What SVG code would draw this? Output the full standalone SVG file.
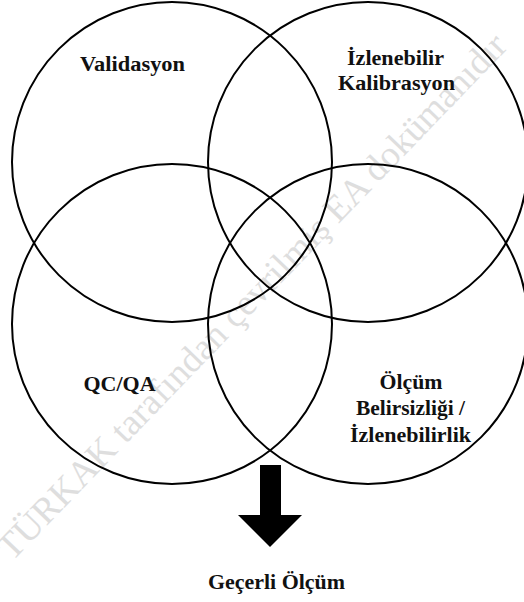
<svg xmlns="http://www.w3.org/2000/svg" width="524" height="602" viewBox="0 0 524 602">
  <style>
    .ring { fill: none; stroke: #000; stroke-width: 2; }
    .label { font-family: "Liberation Serif", "Times New Roman", serif; font-weight: bold; font-size: 20px; fill: #111; text-anchor: middle; }
    .mark { font-family: "Liberation Serif", "Times New Roman", serif; font-size: 37px; fill: #dedede; }
  </style>
  <rect width="524" height="602" fill="#fff"/>

  <!-- background watermark -->
  <text class="mark" transform="translate(12,562) rotate(-46)">TÜRKAK tarafından çevrilmiş EA dokümanıdır</text>

  <!-- four overlapping circles -->
  <g id="validasyon">
    <circle class="ring" cx="172" cy="162" r="160"/>
    <text class="label" x="132.5" y="71" textLength="105" lengthAdjust="spacingAndGlyphs">Validasyon</text>
  </g>
  <g id="izlenebilir-kalibrasyon">
    <circle class="ring" cx="368" cy="162" r="160"/>
    <text class="label" x="395.5" y="65" textLength="97" lengthAdjust="spacingAndGlyphs">İzlenebilir</text>
    <text class="label" x="396.5" y="90" textLength="117" lengthAdjust="spacingAndGlyphs">Kalibrasyon</text>
  </g>
  <g id="qc-qa">
    <circle class="ring" cx="172" cy="324" r="160"/>
    <text class="label" x="119.5" y="391" textLength="72" lengthAdjust="spacingAndGlyphs">QC/QA</text>
  </g>
  <g id="olcum-belirsizligi">
    <circle class="ring" cx="368" cy="324" r="160"/>
    <text class="label" x="411" y="389" textLength="63" lengthAdjust="spacingAndGlyphs">Ölçüm</text>
    <text class="label" x="410.5" y="415" textLength="109" lengthAdjust="spacingAndGlyphs">Belirsizliği /</text>
    <text class="label" x="410.5" y="442" textLength="121" lengthAdjust="spacingAndGlyphs">İzlenebilirlik</text>
  </g>

  <!-- result arrow -->
  <g id="connectors">
    <polygon points="260,465 281,465 281,515 302,515 270,547 238,515 260,515" fill="#000"/>
  </g>
  <g id="gecerli-olcum">
    <text class="label" x="276.5" y="589" textLength="137" lengthAdjust="spacingAndGlyphs">Geçerli Ölçüm</text>
  </g>
</svg>
